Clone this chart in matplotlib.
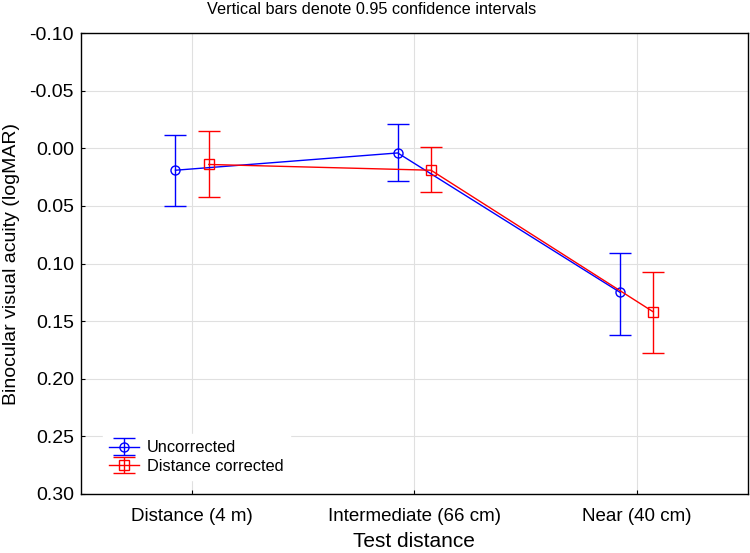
import matplotlib
matplotlib.use("Agg")
import matplotlib.pyplot as plt
import numpy as np

plt.rcParams['font.family'] = ['Liberation Sans', 'DejaVu Sans']

categories = ["Distance (4 m)", "Intermediate (66 cm)", "Near (40 cm)"]
uncorr_mean = [0.019, 0.004, 0.125]
uncorr_lo = [-0.012, -0.021, 0.091]
uncorr_hi = [0.050, 0.028, 0.162]
corr_mean = [0.014, 0.019, 0.142]
corr_lo = [-0.015, -0.001, 0.107]
corr_hi = [0.042, 0.038, 0.178]
yticks = [-0.10, -0.05, 0.00, 0.05, 0.10, 0.15, 0.20, 0.25, 0.30]

fig = plt.figure(figsize=(7.5, 5.53), dpi=100)
ax = fig.add_axes([0.108, 0.107, 0.889, 0.833])

x = np.arange(len(categories))
off = 0.075

def plot_series(xs, m, lo, hi, color, marker, label, ms):
    m = np.array(m); lo = np.array(lo); hi = np.array(hi)
    ax.errorbar(xs, m, yerr=[m - lo, hi - m], color=color, marker=marker,
                mfc='none', mec=color, ms=ms, lw=1.0, elinewidth=1.0,
                capsize=8, capthick=1.0, label=label, zorder=3)

plot_series(x - off, uncorr_mean, uncorr_lo, uncorr_hi, '#0000ff', 'o', 'Uncorrected', 6.5)
plot_series(x + off, corr_mean, corr_lo, corr_hi, '#ff0000', 's', 'Distance corrected', 7)

ax.set_xlim(-0.5, 2.5)
ax.set_ylim(0.30, -0.10)
ax.set_yticks(yticks)
ax.set_yticklabels([f"{v:.2f}" for v in yticks])
ax.set_xticks(x)
ax.set_xticklabels(categories)
ax.grid(True, color='#e0e0e0', lw=0.8, zorder=0)
ax.set_axisbelow(True)
ax.tick_params(labelsize=14, length=3, direction='in', colors='black')
ax.tick_params(axis='x', labelsize=13.5, pad=10)
ax.tick_params(axis='y', pad=5)
for s in ax.spines.values():
    s.set_color('black'); s.set_linewidth(1.0)
ax.set_xlabel("Test distance", fontsize=15, labelpad=5)
ax.set_ylabel("Binocular visual acuity (logMAR)", fontsize=14, labelpad=7)
fig.text(0.496, 0.983, "Vertical bars denote 0.95 confidence intervals",
         ha='center', va='center', fontsize=11.7)

leg = ax.legend(loc='lower left', bbox_to_anchor=(0.02, 0.012), fontsize=11.8,
                frameon=True, fancybox=False, framealpha=1, edgecolor='white',
                handlelength=1.8, borderpad=0.4, labelspacing=0.2,
                handletextpad=0.5)

fig.savefig("out.png", dpi=100)
